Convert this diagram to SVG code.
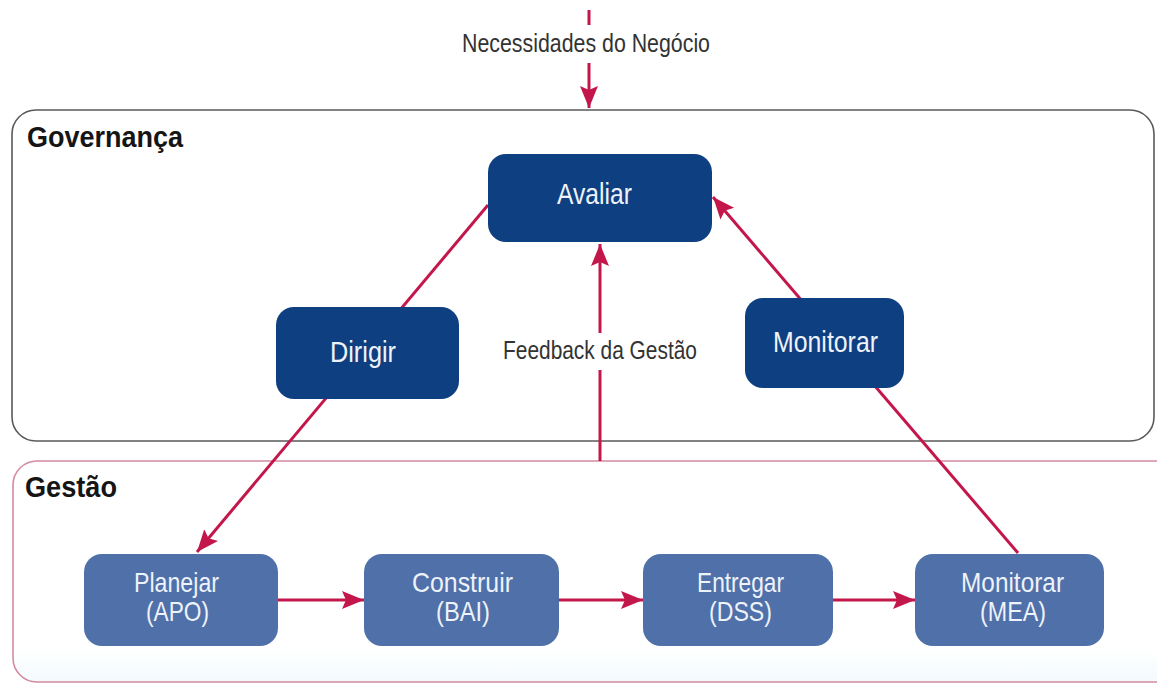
<svg xmlns="http://www.w3.org/2000/svg" width="1157" height="684" viewBox="0 0 1157 684">
  <defs>
    <marker id="ah" markerUnits="userSpaceOnUse" markerWidth="24" markerHeight="20" refX="22" refY="9" orient="auto">
      <path d="M0,0 L22,9 L0,18 L4,9 z" fill="#c3174c"/>
    </marker>
    <linearGradient id="gestFill" x1="0" y1="0" x2="0" y2="1">
      <stop offset="0" stop-color="#ffffff"/>
      <stop offset="0.85" stop-color="#ffffff"/>
      <stop offset="1" stop-color="#f3fafd"/>
    </linearGradient>
    <style>
      .lbl { font-family: "Liberation Sans", Arial, sans-serif; fill: #333333; }
      .title { font-family: "Liberation Sans", Arial, sans-serif; font-weight: bold; fill: #151515; font-size: 29px; }
      .dark { fill: #0e3f80; }
      .light { fill: #4f70a8; }
      .nt { font-family: "Liberation Sans", Arial, sans-serif; fill: #eef2fa; text-anchor: middle; }
      .conn { stroke: #c3174c; stroke-width: 3; fill: none; }
    </style>
  </defs>
  <rect width="1157" height="684" fill="#ffffff"/>

  <g id="governanca">
    <rect x="12" y="110" width="1142" height="331" rx="24" fill="#ffffff" stroke="#5a5a5a" stroke-width="1.6"/>
    <text class="title" x="27" y="147" textLength="156" lengthAdjust="spacingAndGlyphs">Governança</text>
  </g>

  <g id="gestao">
    <rect x="13" y="461" width="1170" height="221" rx="24" fill="url(#gestFill)" stroke="#d48aa0" stroke-width="1.6"/>
    <text class="title" x="25" y="497" textLength="92" lengthAdjust="spacingAndGlyphs">Gestão</text>
  </g>

  <g id="connectors">
    <line class="conn" x1="589" y1="10" x2="589" y2="25"/>
    <line class="conn" x1="589" y1="63" x2="589" y2="108" marker-end="url(#ah)"/>
    <line class="conn" x1="600" y1="461" x2="600" y2="370"/>
    <line class="conn" x1="600" y1="333" x2="600" y2="244" marker-end="url(#ah)"/>
    <line class="conn" x1="488" y1="205" x2="197" y2="552" marker-end="url(#ah)"/>
    <line class="conn" x1="1018" y1="553" x2="713" y2="197" marker-end="url(#ah)"/>
    <line class="conn" x1="278" y1="600" x2="364" y2="600" marker-end="url(#ah)"/>
    <line class="conn" x1="559" y1="600" x2="643" y2="600" marker-end="url(#ah)"/>
    <line class="conn" x1="833" y1="600" x2="915" y2="600" marker-end="url(#ah)"/>
  </g>

  <g id="label-necessidades">
    <text class="lbl" x="462" y="52" font-size="26" textLength="248" lengthAdjust="spacingAndGlyphs">Necessidades do Negócio</text>
  </g>
  <g id="label-feedback">
    <text class="lbl" x="503" y="359" font-size="26" textLength="194" lengthAdjust="spacingAndGlyphs">Feedback da Gestão</text>
  </g>

  <g id="avaliar">
    <rect class="dark" x="488" y="154" width="224" height="88" rx="18"/>
    <text class="nt" x="594.5" y="204" font-size="29" textLength="75" lengthAdjust="spacingAndGlyphs">Avaliar</text>
  </g>
  <g id="dirigir">
    <rect class="dark" x="276" y="307" width="183" height="92" rx="18"/>
    <text class="nt" x="363" y="362" font-size="29" textLength="66" lengthAdjust="spacingAndGlyphs">Dirigir</text>
  </g>
  <g id="monitorar-gov">
    <rect class="dark" x="745" y="298" width="159" height="90" rx="18"/>
    <text class="nt" x="825.5" y="352" font-size="29" textLength="105" lengthAdjust="spacingAndGlyphs">Monitorar</text>
  </g>

  <g id="planejar">
    <rect class="light" x="84" y="554" width="194" height="92" rx="18"/>
    <text class="nt" x="176.5" y="592" font-size="28" textLength="85" lengthAdjust="spacingAndGlyphs">Planejar</text>
    <text class="nt" x="177.5" y="621" font-size="28" textLength="63" lengthAdjust="spacingAndGlyphs">(APO)</text>
  </g>
  <g id="construir">
    <rect class="light" x="364" y="554" width="195" height="92" rx="18"/>
    <text class="nt" x="462.5" y="592" font-size="28" textLength="101" lengthAdjust="spacingAndGlyphs">Construir</text>
    <text class="nt" x="463" y="621" font-size="28" textLength="54" lengthAdjust="spacingAndGlyphs">(BAI)</text>
  </g>
  <g id="entregar">
    <rect class="light" x="643" y="554" width="190" height="92" rx="18"/>
    <text class="nt" x="740.5" y="592" font-size="28" textLength="87" lengthAdjust="spacingAndGlyphs">Entregar</text>
    <text class="nt" x="740.5" y="621" font-size="28" textLength="63" lengthAdjust="spacingAndGlyphs">(DSS)</text>
  </g>
  <g id="monitorar-mea">
    <rect class="light" x="915" y="554" width="189" height="92" rx="18"/>
    <text class="nt" x="1012.5" y="592" font-size="28" textLength="103" lengthAdjust="spacingAndGlyphs">Monitorar</text>
    <text class="nt" x="1013" y="621" font-size="28" textLength="66" lengthAdjust="spacingAndGlyphs">(MEA)</text>
  </g>
</svg>
